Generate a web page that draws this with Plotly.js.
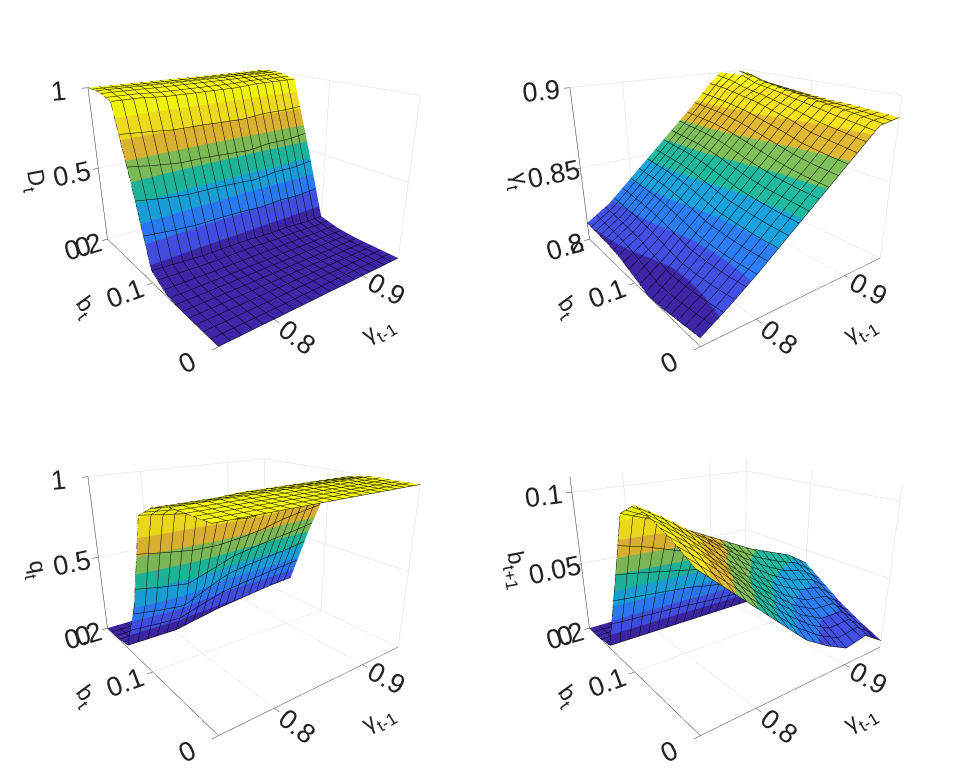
<!DOCTYPE html>
<html>
<head>
<script src="https://cdn.plot.ly/plotly-3.0.1.min.js"></script>
<style>body{margin:0;background:#fff}#graph{width:964px;height:777px}</style>
</head>
<body>
<div id="graph"></div>
<script>
// grids: rows = b_t, columns = gamma_{t-1}
let gammaGrid = [0.75, 0.775, 0.8, 0.825, 0.85, 0.875, 0.9, 0.925, 0.95];
let bGrid = [0, 0.025, 0.05, 0.075, 0.1, 0.125, 0.15, 0.175, 0.2];

let zD = [
  [0, 0, 0, 0, 0, 0, 0, 0, 0],
  [0, 0, 0, 0, 0, 0, 0, 0, 0],
  [0, 0, 0, 0, 0, 0, 0, 0, 0],
  [0.01, 0.01, 0.01, 0.01, 0.01, 0.01, 0.01, 0.01, 0.01],
  [0.08, 0.07, 0.06, 0.06, 0.06, 0.05, 0.05, 0.04, 0.04],
  [0.55, 0.52, 0.5, 0.5, 0.49, 0.48, 0.5, 0.5, 0.52],
  [0.97, 0.97, 0.96, 0.96, 0.96, 0.96, 0.97, 0.97, 0.97],
  [1, 1, 1, 1, 1, 1, 1, 1, 1],
  [1, 1, 1, 1, 1, 1, 1, 1, 1]
];

let zGamma = [
  [0.805, 0.815, 0.826, 0.838, 0.85, 0.862, 0.874, 0.886, 0.888],
  [0.803, 0.813, 0.825, 0.838, 0.851, 0.863, 0.876, 0.888, 0.889],
  [0.801, 0.812, 0.825, 0.839, 0.852, 0.865, 0.878, 0.89, 0.89],
  [0.8, 0.812, 0.826, 0.84, 0.854, 0.868, 0.882, 0.892, 0.89],
  [0.804, 0.815, 0.829, 0.843, 0.857, 0.871, 0.885, 0.894, 0.891],
  [0.808, 0.818, 0.832, 0.846, 0.86, 0.874, 0.888, 0.896, 0.892],
  [0.81, 0.82, 0.834, 0.848, 0.862, 0.876, 0.89, 0.898, 0.893],
  [0.811, 0.821, 0.835, 0.849, 0.863, 0.877, 0.892, 0.903, 0.894],
  [0.812, 0.822, 0.836, 0.85, 0.864, 0.878, 0.893, 0.906, 0.895]
];

let zQ = [
  [1, 1, 1, 1, 1, 1, 1, 1, 1],
  [1, 1, 1, 1, 1, 1, 1, 1, 1],
  [1, 1, 1, 1, 1, 1, 1, 1, 1],
  [0.97, 0.97, 0.97, 0.98, 0.98, 0.98, 0.98, 0.98, 0.98],
  [0.9, 0.88, 0.86, 0.8, 0.78, 0.8, 0.85, 0.88, 0.9],
  [0.35, 0.32, 0.3, 0.38, 0.45, 0.48, 0.5, 0.52, 0.55],
  [0.02, 0.02, 0.02, 0.05, 0.08, 0.1, 0.12, 0.14, 0.15],
  [0, 0, 0, 0.01, 0.01, 0.02, 0.03, 0.04, 0.05],
  [0, 0, 0, 0, 0, 0, 0, 0, 0]
];

let zB = [
  [0.09, 0.075, 0.06, 0.045, 0.03, 0.02, 0.012, 0.015, 0.005],
  [0.098, 0.085, 0.07, 0.055, 0.042, 0.03, 0.022, 0.022, 0.012],
  [0.104, 0.092, 0.078, 0.064, 0.052, 0.04, 0.032, 0.03, 0.02],
  [0.108, 0.098, 0.086, 0.074, 0.062, 0.052, 0.044, 0.04, 0.03],
  [0.1, 0.094, 0.086, 0.078, 0.07, 0.062, 0.056, 0.05, 0.04],
  [0.05, 0.048, 0.046, 0.044, 0.04, 0.038, 0.035, 0.03, 0.025],
  [0.002, 0.002, 0.002, 0.002, 0.002, 0.002, 0.002, 0.002, 0.002],
  [0, 0, 0, 0, 0, 0, 0, 0, 0],
  [0, 0, 0, 0, 0, 0, 0, 0, 0]
];

// banded parula, like MATLAB's faceted surface
let parulaBands = ['#3E26A8', '#4350E6', '#2C7DF9', '#1AA3DE', '#1FBA9F', '#80C05A', '#E2B732', '#F6E21D', '#F9FB0E'];
let colorscale = [];
parulaBands.forEach(function (c, i) {
  colorscale.push([i / parulaBands.length, c]);
  colorscale.push([(i + 1) / parulaBands.length, c]);
});

function surf(z, scene) {
  return {
    type: 'surface', x: gammaGrid, y: bGrid, z: z, scene: scene,
    colorscale: colorscale, showscale: false, hoverinfo: 'skip',
    lighting: {ambient: 0.95, diffuse: 0.1, specular: 0, roughness: 1},
    contours: {
      x: {show: true, start: 0.75, end: 0.95, size: 0.01, color: '#000', width: 1},
      y: {show: true, start: 0, end: 0.2, size: 0.01, color: '#000', width: 1},
      z: {show: false}
    }
  };
}

let tickFont = {family: 'Liberation Sans, Arial', size: 18, color: '#222'};
let titleFont = {family: 'Liberation Sans, Arial', size: 23, color: '#222'};

function axis(title, range, ticks) {
  return {
    title: {text: title, font: titleFont}, range: range, tickvals: ticks,
    tickfont: tickFont, showbackground: false, gridcolor: '#ddd',
    showline: true, linecolor: '#333', zeroline: false, ticks: 'outside', tickcolor: '#333'
  };
}

function scene(domX, domY, ztitle, zrange, zticks) {
  return {
    domain: {x: domX, y: domY},
    xaxis: axis('γ<sub>t-1</sub>', [0.75, 0.95], [0.8, 0.9]),
    yaxis: axis('b<sub>t</sub>', [0, 0.2], [0, 0.1, 0.2]),
    zaxis: axis(ztitle, zrange, zticks),
    aspectmode: 'manual', aspectratio: {x: 1, y: 1, z: 0.75},
    camera: {eye: {x: -1.2, y: -1.6, z: 0.72}, center: {x: 0.02, y: 0, z: -0.1}}
  };
}

let layout = {
  paper_bgcolor: '#fff', showlegend: false,
  margin: {l: 0, r: 0, t: 0, b: 0},
  scene: scene([0.02, 0.5], [0.5, 1], 'D<sub>t</sub>', [0, 1], [0, 0.5, 1]),
  scene2: scene([0.52, 1], [0.5, 1], 'γ<sub>t</sub>', [0.8, 0.9], [0.8, 0.85, 0.9]),
  scene3: scene([0.02, 0.5], [0, 0.5], 'q<sub>t</sub>', [0, 1], [0, 0.5, 1]),
  scene4: scene([0.52, 1], [0, 0.5], 'b<sub>t+1</sub>', [0, 0.11], [0, 0.05, 0.1])
};

Plotly.newPlot('graph', [surf(zD, 'scene'), surf(zGamma, 'scene2'), surf(zQ, 'scene3'), surf(zB, 'scene4')], layout, {displayModeBar: false});
</script>
</body>
</html>
